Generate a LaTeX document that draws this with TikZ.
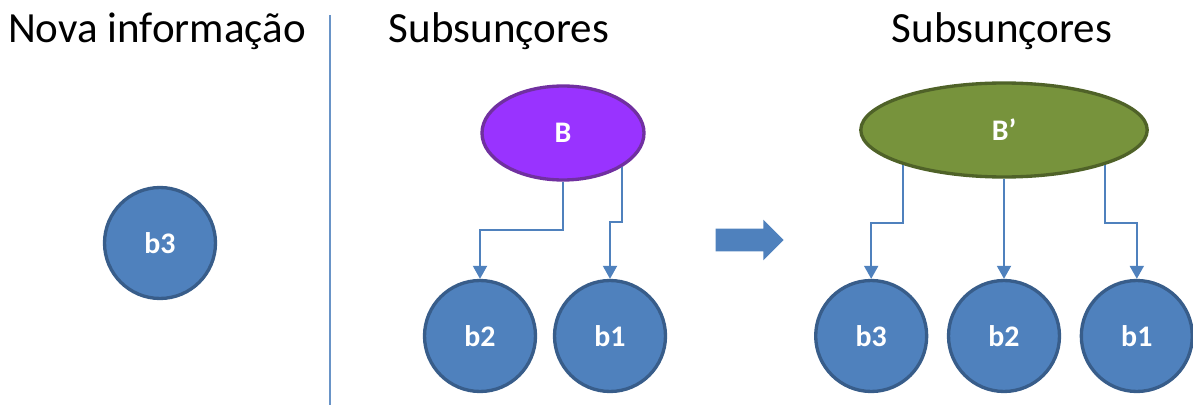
\documentclass[tikz,border=0pt]{standalone}
\usepackage{fontspec}
\setmainfont{Carlito}
\usepackage{tikz}
\usetikzlibrary{arrows.meta,shapes,positioning}
\usepackage{xcolor}
\definecolor{ssblue}{RGB}{79,129,189}
\definecolor{ssdarkblue}{RGB}{56,93,138}
\definecolor{sspurple}{RGB}{153,51,255}
\definecolor{ssdarkpurple}{RGB}{112,48,160}
\definecolor{ssgreen}{RGB}{119,147,60}
\definecolor{ssdarkgreen}{RGB}{79,98,40}
\tikzstyle{title} = [font=\fontsize{24.5}{29}\selectfont, text=black, inner sep=0pt]
\tikzstyle{concept} = [circle, minimum size=2.22cm, text centered, draw=ssdarkblue, fill=ssblue, line width=1.9pt, text=white, font=\fontsize{17}{20}\selectfont\bfseries]
\tikzstyle{anchorconcept} = [ellipse, minimum height=1.88cm, text centered, line width=1.9pt, text=white, font=\fontsize{17}{20}\selectfont\bfseries]
\tikzstyle{link} = [line width=1.1pt, color=ssblue, -{Triangle[width=0.28cm,length=0.26cm]}]

\begin{document}
\begin{tikzpicture}[x=0.02cm, y=-0.02cm]
\useasboundingbox (0,0) rectangle (1193,405);
% Headings and separator
\node (newinfo) [title] at (157,31) {Nova informação};
\node (subsleft) [title] at (499,31) {Subsunçores};
\node (subsright) [title] at (1002,31) {Subsunçores};
\draw[line width=1.2pt, color=ssblue!85] (330,15) -- (330,405);

% New information
\node (newb3) [concept] at (160,243) {b3};

% Before
\node (B) [anchorconcept, minimum width=3.24cm, draw=ssdarkpurple, fill=sspurple] at (563,133) {B};
\node (oldb2) [concept] at (480,336) {b2};
\node (oldb1) [concept] at (610,336) {b1};

\draw[link] (B.south) -- ++(0,48) -| (oldb2.north);
\draw[link] (B.-30) -- ++(0,55) -| (oldb1.north);

% Shift arrow
\node (shift) [single arrow, fill=ssblue, minimum height=1.36cm, inner xsep=0pt, inner ysep=0.22cm, single arrow head extend=0.18cm, single arrow head indent=0pt] at (744,240) {};

% After
\node (Bp) [anchorconcept, minimum width=5.73cm, draw=ssdarkgreen, fill=ssgreen] at (1004,130) {B’};
\node (newb2) [concept] at (1004,336) {b2};
\node (newb3b) [concept, left=0.37cm of newb2] {b3};
\node (newb1) [concept, right=0.37cm of newb2] {b1};

\draw[link] (Bp.-161) -- ++(0,58) -| (newb3b.north);
\draw[link] (Bp.south) -- (newb2.north);
\draw[link] (Bp.-19) -- ++(0,58) -| (newb1.north);
\end{tikzpicture}
\end{document}
